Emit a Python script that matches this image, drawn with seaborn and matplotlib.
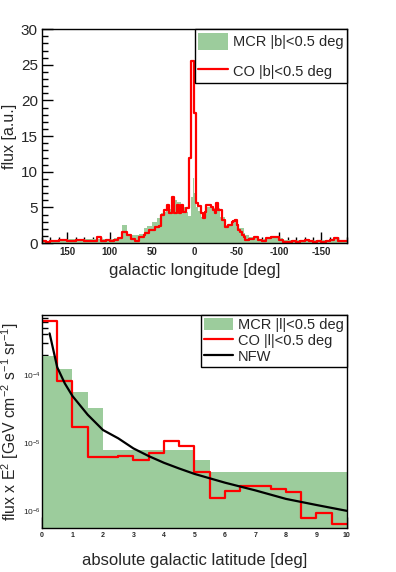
import numpy as np
import pandas as pd
import matplotlib
matplotlib.use('Agg')
import matplotlib.pyplot as plt
import seaborn as sns
from matplotlib.ticker import MultipleLocator, LogLocator, NullFormatter

# ---- top panel data: flux vs galactic longitude (read left to right, 180 -> -180)
# bin edges: 5 deg wings, 2 deg near the centre
lon_edges = np.concatenate([np.arange(180, 60, -5), np.arange(60, -60, -2), np.arange(-60, -181, -5)])

co_lon = [0.3, 0.2, 0.25, 0.3, 0.5, 0.4, 0.3, 0.3, 0.45, 0.4, 0.3, 0.35,
          0.3, 0.8, 0.35, 0.4, 0.35, 0.5, 0.7, 1.5, 1.1, 0.6, 0.3, 0.8,
          1.1, 1.35, 1.35, 1.8, 1.8, 1.8, 1.9, 2.3, 2.3, 2.4,
          3.9, 3.9, 4.6, 4.6, 5.3, 4.2, 4.2, 6.5, 4.2, 4.2,
          5.3, 4.2, 5.3, 4.4, 4.4, 4.9, 4.9, 11.9, 25.6, 25.6,
          18.2, 5.6, 5.2, 5.2, 4.2, 3.5, 4.4, 5.3, 5.3, 5.3,
          5.1, 4.6, 4.2, 5.6, 4.6, 4.6, 3.2, 3.2, 2.2, 2.2,
          2.5, 2.5, 3.0, 3.1, 3.3, 2.6, 1.8, 1.5, 1.1, 0.8,
          0.4, 0.55, 0.9, 0.4, 0.3, 0.65, 0.9, 0.9, 0.5, 0.2, 0.2, 0.25,
          0.2, 0.3, 0.4, 0.35, 0.2, 0.35, 0.2, 0.25, 0.4, 0.65, 0.3, 0.3]

mcr_lon = [0.3, 0.3, 0.35, 0.4, 0.5, 0.55, 0.6, 0.6, 0.6, 0.6, 0.55, 0.55,
           0.55, 0.6, 0.6, 0.55, 0.6, 0.7, 0.8, 2.5, 1.1, 1.1, 1.1, 1.3,
           2.05, 2.05, 2.4, 2.4, 2.4, 3.0, 3.0, 3.0, 3.5, 3.5,
           4.2, 4.2, 4.4, 4.6, 4.8, 4.8, 5.2, 5.5, 6.0, 6.0,
           5.8, 5.8, 5.3, 5.3, 5.0, 4.4, 3.8, 3.8, 6.5, 9.1,
           7.0, 5.1, 4.5, 4.2, 3.7, 3.7, 3.7, 5.1, 5.1, 5.1,
           4.9, 4.9, 4.9, 4.9, 4.9, 3.7, 3.7, 3.7, 2.5, 2.5,
           2.5, 2.5, 3.0, 3.0, 3.0, 3.0, 2.05, 2.05, 2.05, 1.35,
           1.2, 0.9, 0.7, 0.6, 0.6, 0.6, 0.65, 0.65, 0.65, 0.5, 0.45, 0.45,
           0.45, 0.45, 0.45, 0.45, 0.45, 0.45, 0.45, 0.45, 0.5, 0.6, 0.45, 0.4]

# ---- bottom panel data: flux x E^2 vs |b|, 0.5 deg bins
lat_edges = np.arange(0, 10.01, 0.5)
mcr_lat = [1.9e-4, 1.22e-4, 5.6e-5, 3.3e-5, 8e-6, 8e-6, 8e-6, 8e-6, 8e-6, 8e-6,
           5.6e-6, 3.7e-6, 3.7e-6, 3.7e-6, 3.7e-6, 3.7e-6, 3.7e-6, 3.7e-6, 3.7e-6, 3.7e-6]
co_lat = [6.3e-4, 8.1e-5, 1.74e-5, 6.2e-6, 6.3e-6, 6.5e-6, 5.7e-6, 7e-6, 1.07e-5, 9e-6,
          3.7e-6, 1.55e-6, 1.95e-6, 2.3e-6, 2.3e-6, 2.1e-6, 1.87e-6, 7.9e-7, 9.2e-7, 6.5e-7]
nfw_b = [0.25, 0.5, 0.75, 1.0, 1.5, 2.0, 2.5, 3.0, 3.5, 4.0, 4.5, 5.0, 6.0, 7.0, 8.0, 9.0, 10.0]
nfw_flux = [4.1e-4, 1.3e-4, 7.5e-5, 4.9e-5, 2.6e-5, 1.55e-5, 1.17e-5, 8.3e-6, 6.4e-6,
            5.1e-6, 4.2e-6, 3.5e-6, 2.6e-6, 2.0e-6, 1.5e-6, 1.22e-6, 1.0e-6]

green = '#9ccc9c'
red = '#ff0000'

sns.set_style('ticks')
plt.rcParams['font.family'] = ['Liberation Sans', 'DejaVu Sans']
plt.rcParams['mathtext.fontset'] = 'custom'
plt.rcParams['mathtext.rm'] = 'Liberation Sans'
plt.rcParams['mathtext.it'] = 'Liberation Sans:italic'
plt.rcParams['axes.unicode_minus'] = False

fig = plt.figure(figsize=(3.96, 5.72), dpi=100)
ax1 = fig.add_axes([0.106, 0.575, 0.770, 0.374])
ax2 = fig.add_axes([0.106, 0.077, 0.770, 0.372])

# weighted histograms: one entry per bin centre
lon_e = [float(v) for v in lon_edges[::-1]]
top = pd.DataFrame({
    'lon': [(a + b) / 2 for a, b in zip(lon_e[:-1], lon_e[1:])],
    'co': co_lon[::-1],
    'mcr': mcr_lon[::-1],
})

sns.histplot(data=top, x='lon', weights='mcr', bins=lon_e, element='step', fill=True,
             color=green, alpha=1, linewidth=0, label='MCR |b|<0.5 deg', ax=ax1)
sns.histplot(data=top, x='lon', weights='co', bins=lon_e, element='step', fill=False,
             color=red, linewidth=1.6, label='CO |b|<0.5 deg', ax=ax1)

ax1.set_xlim(180, -180)
ax1.set_ylim(0, 30)
ax1.xaxis.set_minor_locator(MultipleLocator(10))
ax1.yaxis.set_major_locator(MultipleLocator(5))
ax1.yaxis.set_minor_locator(MultipleLocator(1))
ax1.set_xticks([150, 100, 50, 0, -50, -100, -150])
ax1.set_xlabel('galactic longitude [deg]', fontsize=12)
ax1.set_ylabel('flux [a.u.]', fontsize=11.5)
ax1.yaxis.set_label_coords(-0.082, 0.5)
for t in ax1.get_xticklabels():
    t.set_fontweight('bold')
    t.set_fontsize(7)
for t in ax1.get_yticklabels():
    t.set_fontsize(11)
ax1.legend(loc='upper right', bbox_to_anchor=(1, 1), borderaxespad=0, fontsize=10.5,
           fancybox=False, edgecolor='black', framealpha=1, handlelength=2.0,
           handleheight=1.4, labelspacing=0.9, borderpad=0.25, handletextpad=0.35)

lat_e = [float(v) for v in lat_edges]
bot = pd.DataFrame({
    'lat': [(a + b) / 2 for a, b in zip(lat_e[:-1], lat_e[1:])],
    'co': co_lat,
    'mcr': mcr_lat,
})
ax2.set_yscale('log')
sns.histplot(data=bot, x='lat', weights='mcr', bins=lat_e, element='step', fill=True,
             color=green, alpha=1, linewidth=0, label='MCR |l|<0.5 deg', ax=ax2)
sns.histplot(data=bot, x='lat', weights='co', bins=lat_e, element='step', fill=False,
             color=red, linewidth=1.6, label='CO |l|<0.5 deg', ax=ax2)
sns.lineplot(x=nfw_b, y=nfw_flux, color='black', linewidth=1.6, label='NFW', ax=ax2)

ax2.set_xlim(0, 10)
ax2.set_ylim(5.6e-7, 7.6e-4)
ax2.xaxis.set_major_locator(MultipleLocator(1))
ax2.xaxis.set_minor_locator(MultipleLocator(0.2))
ax2.yaxis.set_major_locator(LogLocator(base=10))
ax2.yaxis.set_minor_locator(LogLocator(base=10, subs=np.arange(2, 10)))
ax2.yaxis.set_minor_formatter(NullFormatter())
ax2.set_xlabel('absolute galactic latitude [deg]', fontsize=12, labelpad=10)
ax2.set_ylabel(r'flux x E$^2$ [GeV cm$^{-2}$ s$^{-1}$ sr$^{-1}$]', fontsize=11.3)
ax2.yaxis.set_label_coords(-0.068, 0.5)
for t in ax2.get_xticklabels():
    t.set_fontweight('bold')
    t.set_fontsize(5)
for t in ax2.get_yticklabels():
    t.set_fontsize(6)
ax2.legend(loc='upper right', bbox_to_anchor=(1, 1), borderaxespad=0, fontsize=10.5,
           fancybox=False, edgecolor='black', framealpha=1, handlelength=2.0,
           handleheight=0.9, labelspacing=0.12, borderpad=0.2, handletextpad=0.35)

for ax in (ax1, ax2):
    for s in ax.spines.values():
        s.set_linewidth(1)
        s.set_color('black')
    ax.tick_params(which='both', direction='in', top=False, right=False, color='black')
    ax.tick_params(which='major', length=8, width=1, pad=3)
    ax.tick_params(which='minor', length=4, width=1)
    ax.set_facecolor('white')
ax2.tick_params(axis='y', which='major', pad=1)

fig.savefig('out.png', dpi=100)
